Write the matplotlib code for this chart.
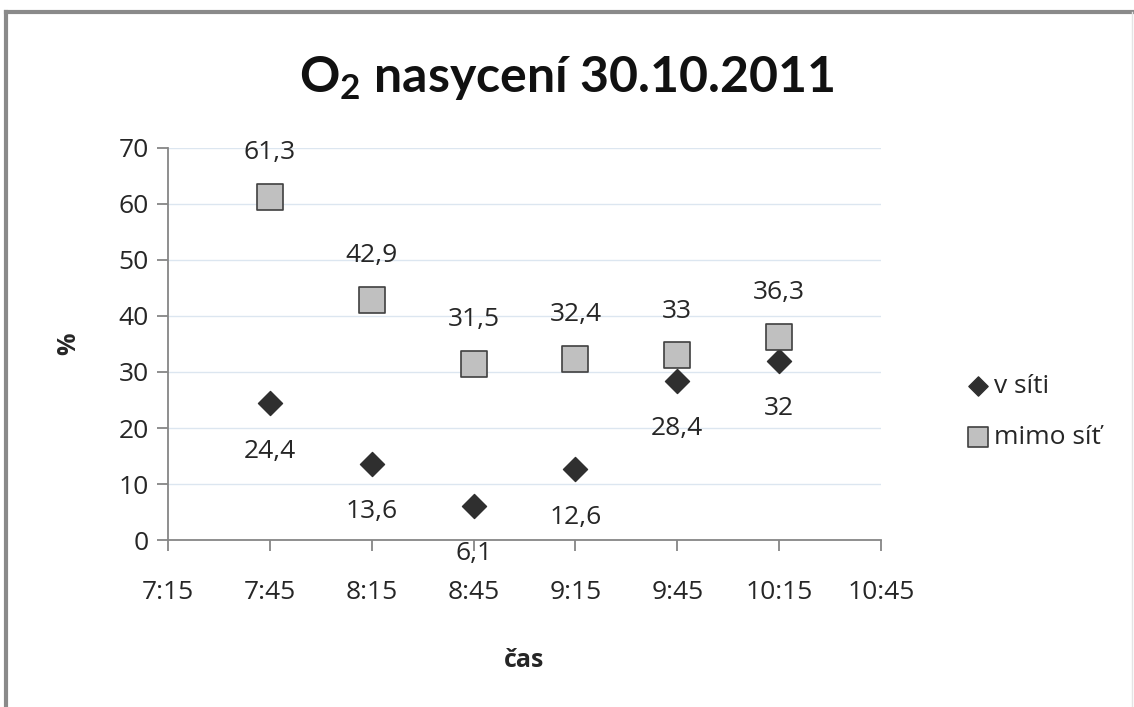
import matplotlib

matplotlib.use("Agg")
import matplotlib.pyplot as plt
from matplotlib.lines import Line2D
from matplotlib.ticker import FixedLocator, FuncFormatter

plt.rcParams["font.family"] = ["Open Sans", "DejaVu Sans"]
plt.rcParams["mathtext.default"] = "regular"

# měření nasycení kyslíkem
times = ["7:45", "8:15", "8:45", "9:15", "9:45", "10:15"]
v_siti = [24.4, 13.6, 6.1, 12.6, 28.4, 32]
mimo_sit = [61.3, 42.9, 31.5, 32.4, 33, 36.3]
x_ticks = ["7:15", "7:45", "8:15", "8:45", "9:15", "9:45", "10:15", "10:45"]
y_ticks = [0, 10, 20, 30, 40, 50, 60, 70]


def to_min(t):
    h, m = t.split(":")
    return int(h) * 60 + int(m)


def fmt_min(v, _pos=None):
    v = int(round(v))
    return f"{v // 60}:{v % 60:02d}"


def fmt_val(v):
    return f"{v:g}".replace(".", ",")


W, H = 1134, 707
TXT = "#262626"
fig = plt.figure(figsize=(W / 100, H / 100), dpi=100)
ax = fig.add_axes([168 / W, (H - 540) / H, (881 - 168) / W, (540 - 148) / H])

xs = [to_min(t) for t in times]
ax.scatter(xs, v_siti, marker="D", s=150, color="#2f2f2f", zorder=3, label="v síti")
ax.scatter(xs, mimo_sit, marker="s", s=330, facecolor="#c0c0c0",
           edgecolor="#404040", linewidth=1.2, zorder=3, label="mimo síť")

for x, v in zip(xs, v_siti):
    ax.annotate(fmt_val(v), (x, v), xytext=(0, -48), textcoords="offset pixels",
                ha="center", va="center", fontsize=19, color=TXT)
for x, v in zip(xs, mimo_sit):
    ax.annotate(fmt_val(v), (x, v), xytext=(0, 44), textcoords="offset pixels",
                ha="center", va="center", fontsize=19, color=TXT)

tick_pos = [to_min(t) for t in x_ticks]
ax.set_xlim(tick_pos[0], tick_pos[-1])
ax.set_ylim(0, 70)
ax.xaxis.set_major_locator(FixedLocator(tick_pos))
ax.xaxis.set_major_formatter(FuncFormatter(fmt_min))
ax.set_yticks(y_ticks)

ax.grid(axis="y", color="#dce6f0", linewidth=1.0)
ax.set_axisbelow(True)
for side in ("top", "right"):
    ax.spines[side].set_visible(False)
for side in ("left", "bottom"):
    ax.spines[side].set_color("#868686")
    ax.spines[side].set_linewidth(1.3)
ax.tick_params(axis="both", colors="#868686", length=8, width=1.3,
               labelcolor=TXT, labelsize=19)
ax.tick_params(axis="x", pad=21)
ax.tick_params(axis="y", pad=6)

ax.set_xlabel("čas", fontsize=18, fontweight="bold", labelpad=31, color=TXT)
ax.set_ylabel("%", fontsize=18, fontweight="bold", labelpad=27, color=TXT)

fig.text(0.5, 1 - 78 / H, "O$_2$ nasycení 30.10.2011", ha="center", va="center",
         fontsize=36, fontweight="bold", family=["Lato", "DejaVu Sans"], color="#111111")

ax.legend(loc="center left", bbox_to_anchor=(954 / W, 1 - 412 / H),
          bbox_transform=fig.transFigure, frameon=False, fontsize=19,
          handlelength=0.8, handletextpad=0.2, labelspacing=1.0,
          markerscale=0.8, borderpad=0)
for t in ax.get_legend().get_texts():
    t.set_color(TXT)

# rámeček grafu
fig.add_artist(Line2D([6 / W, 1], [1 - 12 / H, 1 - 12 / H], color="#8a8a8a", lw=3))
fig.add_artist(Line2D([6 / W, 6 / W], [0, 1 - 12 / H], color="#8a8a8a", lw=3))
fig.add_artist(Line2D([1132 / W, 1132 / W], [0, 1 - 12 / H], color="#e4e4e4", lw=1))

fig.savefig("out.png", dpi=100)
